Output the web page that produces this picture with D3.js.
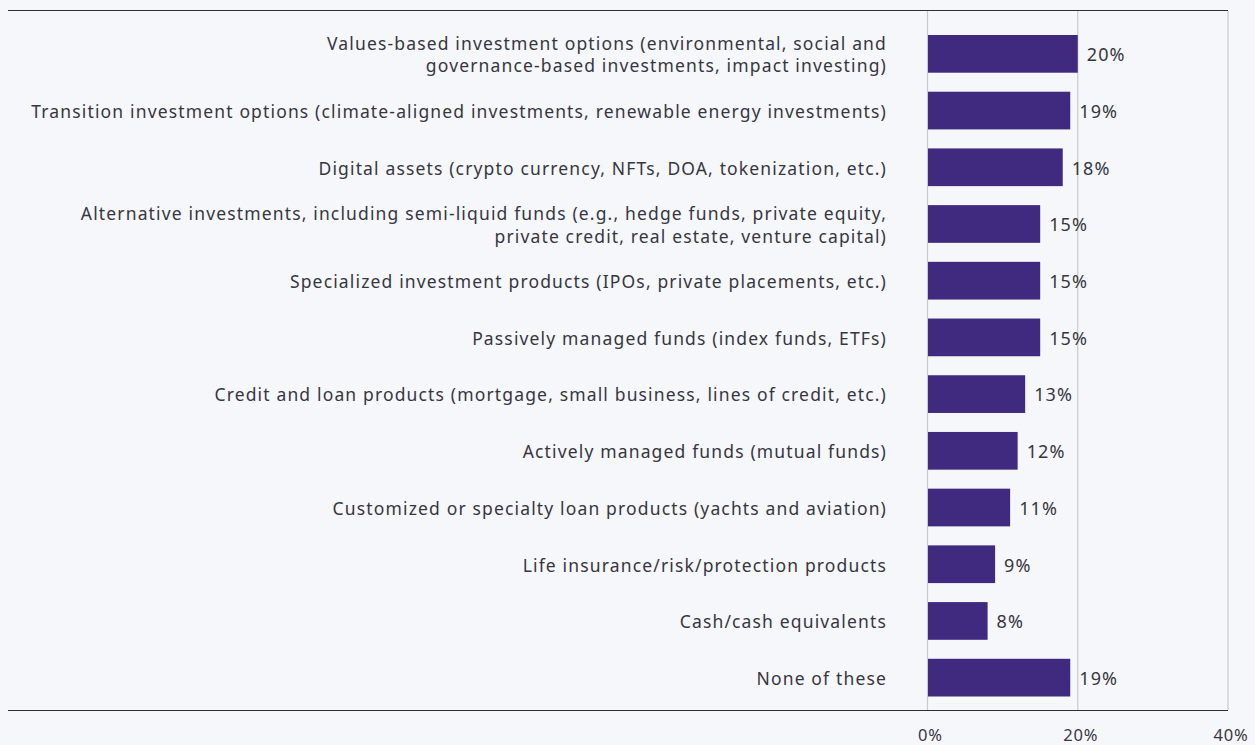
<!DOCTYPE html>
<html>
<head>
<meta charset="utf-8">
<script src="https://cdn.jsdelivr.net/npm/d3@7"></script>
<style>
  html, body { margin: 0; padding: 0; background: #f6f7fb; }
  svg { display: block; }
</style>
</head>
<body>
<div id="chart"></div>
<script>
const categories = [
  ["Values-based investment options (environmental, social and", "governance-based investments, impact investing)"],
  ["Transition investment options (climate-aligned investments, renewable energy investments)"],
  ["Digital assets (crypto currency, NFTs, DOA, tokenization, etc.)"],
  ["Alternative investments, including semi-liquid funds (e.g., hedge funds, private equity,", "private credit, real estate, venture capital)"],
  ["Specialized investment products (IPOs, private placements, etc.)"],
  ["Passively managed funds (index funds, ETFs)"],
  ["Credit and loan products (mortgage, small business, lines of credit, etc.)"],
  ["Actively managed funds (mutual funds)"],
  ["Customized or specialty loan products (yachts and aviation)"],
  ["Life insurance/risk/protection products"],
  ["Cash/cash equivalents"],
  ["None of these"]
];
const values = [20, 19, 18, 15, 15, 15, 13, 12, 11, 9, 8, 19];
const tickValues = [0, 20, 40];

const width = 1255, height = 745;
const font = "'Noto Sans', sans-serif";
const textColor = "#36363f";

const svg = d3.select("#chart").append("svg")
    .attr("width", width)
    .attr("height", height)
    .style("font-family", font);

const data = values.map((v, i) => ({ label: categories[i], value: v, key: i }));

const x = d3.scaleLinear()
    .domain([0, 40])
    .range([927.5, 1228]);
const y = d3.scaleBand()
    .domain(data.map(d => d.key))
    .range([25.5, 706])
    .paddingInner(0.335)
    .paddingOuter(0.1675);

// gridlines
svg.append("g")
  .selectAll("line")
  .data(tickValues)
  .join("line")
    .attr("x1", d => x(d))
    .attr("x2", d => x(d))
    .attr("y1", 11)
    .attr("y2", 710)
    .attr("stroke", "#c9c9cf")
    .attr("stroke-width", 1.2);

// top and bottom rules
svg.append("line")
    .attr("x1", 8).attr("x2", x(40))
    .attr("y1", 10.5).attr("y2", 10.5)
    .attr("stroke", "#2e2e38").attr("stroke-width", 1.2);
svg.append("line")
    .attr("x1", 8).attr("x2", x(40))
    .attr("y1", 710.5).attr("y2", 710.5)
    .attr("stroke", "#2e2e38").attr("stroke-width", 1.2);

// bars
svg.append("g")
    .attr("fill", "#3f2a80")
  .selectAll("rect")
  .data(data)
  .join("rect")
    .attr("x", x(0) + 0.5)
    .attr("y", d => y(d.key))
    .attr("width", d => x(d.value) - x(0) - 0.5)
    .attr("height", y.bandwidth());

// value labels
svg.append("g")
  .selectAll("text")
  .data(data)
  .join("text")
    .attr("x", d => x(d.value) + 9)
    .attr("y", d => y(d.key) + y.bandwidth() / 2 + 1)
    .attr("dy", "0.35em")
    .attr("font-size", 18)
    .attr("letter-spacing", 1.1)
    .attr("fill", textColor)
    .text(d => d.value + "%");

// category labels
const lineGap = 22.5;
svg.append("g")
  .selectAll("text")
  .data(data)
  .join("text")
    .attr("x", 887)
    .attr("y", d => y(d.key) + y.bandwidth() / 2 + 1.2 - (d.label.length - 1) * lineGap / 2)
    .attr("text-anchor", "end")
    .attr("font-size", 17.5)
    .attr("letter-spacing", 1.15)
    .attr("fill", textColor)
  .selectAll("tspan")
  .data(d => d.label)
  .join("tspan")
    .attr("x", 887)
    .attr("dy", (d, i) => i === 0 ? "0.35em" : lineGap)
    .text(d => d);

// x axis
const axis = svg.append("g")
    .attr("transform", "translate(0,735)")
    .call(d3.axisBottom(x).tickValues(tickValues).tickFormat(d => d + "%").tickSize(0));
axis.select(".domain").remove();
axis.selectAll("text")
    .attr("font-family", font)
    .attr("font-size", 16.5)
    .attr("letter-spacing", 0.8)
    .attr("fill", textColor)
    .attr("dx", "0.15em")
    .attr("dy", "0.35em")
    .attr("y", 0);
</script>
</body>
</html>
